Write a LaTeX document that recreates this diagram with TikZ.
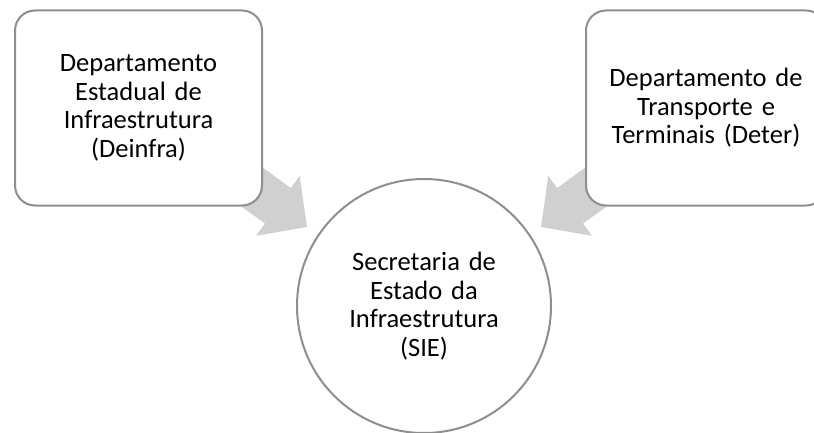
\documentclass[tikz,border=0pt]{standalone}
\usepackage{fontspec}
\setmainfont{Carlito}
\usetikzlibrary{arrows.meta, backgrounds}

\definecolor{linegray}{HTML}{8E8E8E}
\definecolor{arrowgray}{HTML}{D0D0D0}

\begin{document}
\begin{tikzpicture}[x=1pt, y=-1pt,
  every node/.style = {align=center, text width=236pt, inner sep=0pt,
    font=\fontsize{26.5}{28.5}\selectfont},
  unit/.style = {shape=rectangle, rounded corners=20pt, draw=linegray, line width=2pt,
    fill=white, minimum width=247pt, minimum height=195pt},
  hub/.style = {shape=circle, draw=linegray, line width=2pt, fill=white, minimum size=254pt},
  feed/.style = {draw=arrowgray, line width=44pt, -{Triangle[length=36pt, width=72pt]}}]
  \useasboundingbox (0,0) rectangle (814,433);
  \node[unit] (deinfra) at (138.5,108) {Departamento\\Estadual de\\Infraestrutura\\(Deinfra)};
  \node[unit, minimum width=240pt] (deter) at (706,108) {Departamento de\\Transporte e\\Terminais (Deter)};
  \node[hub, text width=200pt] (sie) at (424,306) {Secretaria de\\Estado da\\Infraestrutura\\(SIE)};
  % arrows into the circle
  \coordinate (deinfra out) at (226,168);
  \coordinate (deinfra tip) at (307,227);
  \coordinate (deter out) at (622,168);
  \coordinate (deter tip) at (541,227);
  \begin{scope}[on background layer]
    \draw[feed] (deinfra out) -- (deinfra tip);
    \draw[feed] (deter out) -- (deter tip);
  \end{scope}
\end{tikzpicture}
\end{document}
